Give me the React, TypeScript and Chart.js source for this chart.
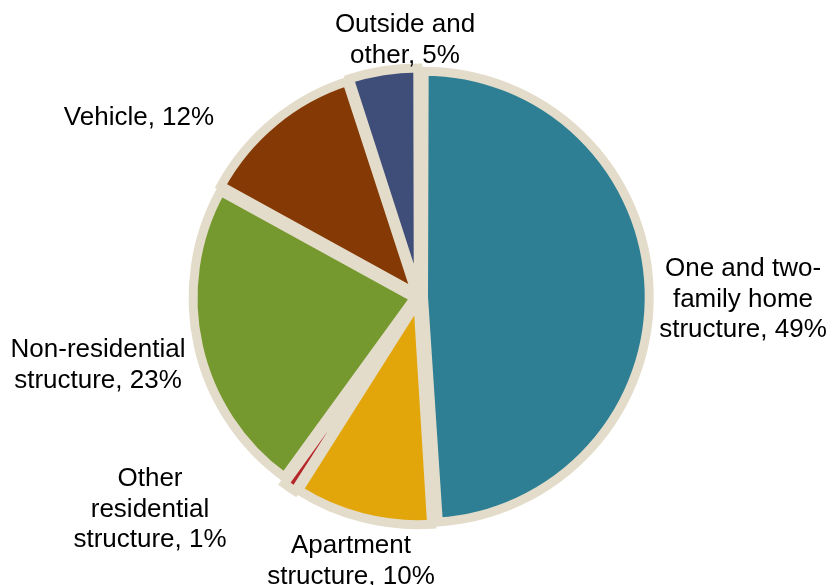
import React, { useEffect, useRef } from "react";
import { Chart, registerables } from "chart.js";

Chart.register(...registerables);

// ---- data ----
const categories = [
  "One and two-family home structure",
  "Apartment structure",
  "Other residential structure",
  "Non-residential structure",
  "Vehicle",
  "Outside and other",
];
const shares = [49, 10, 1, 23, 12, 5];
const labelLines = [
  ["One and two-", "family home", "structure, 49%"],
  ["Apartment", "structure, 10%"],
  ["Other", "residential", "structure, 1%"],
  ["Non-residential", "structure, 23%"],
  ["Vehicle, 12%"],
  ["Outside and", "other, 5%"],
];

// ---- styles / layout ----
const colors = ["#2E7F93", "#E3A60A", "#B5262A", "#76992F", "#853A05", "#3E4E78"];
const borderColor = "#E4DCCA";
// label anchor: centre x and first baseline y (page pixels)
const labelAnchors = [
  [743, 276],
  [351, 553],
  [150, 486],
  [98, 357],
  [139, 125],
  [405, 32],
];
const LINE_H = 30.5;
const FONT = '26px "Liberation Sans", Arial, sans-serif';

const labelPlugin = {
  id: "sliceLabels",
  afterDraw(chart: any) {
    const ctx = chart.ctx;
    ctx.save();
    ctx.font = FONT;
    ctx.fillStyle = "#000000";
    ctx.textAlign = "center";
    ctx.textBaseline = "alphabetic";
    labelLines.forEach((lines, i) => {
      const [x, y] = labelAnchors[i];
      lines.forEach((ln, j) => ctx.fillText(ln, x, y + j * LINE_H));
    });
    ctx.restore();
  },
};

export default function App() {
  const ref = useRef<HTMLCanvasElement>(null);
  useEffect(() => {
    if (!ref.current) return;
    const chart = new Chart(ref.current, {
      type: "pie",
      data: {
        labels: categories,
        datasets: [
          {
            data: shares,
            backgroundColor: colors,
            borderColor: borderColor,
            borderWidth: 9,
            borderJoinStyle: "miter",
            offset: 18,
            hoverOffset: 0,
          },
        ],
      },
      options: {
        responsive: false,
        animation: false,
        radius: 221.5,
        layout: { padding: { left: 6, top: 9, right: 0, bottom: 0 } },
        plugins: {
          legend: { display: false },
          tooltip: { enabled: false },
        },
        events: [],
      } as any,
      plugins: [labelPlugin],
    });
    return () => chart.destroy();
  }, []);
  return (
    <div style={{ position: "absolute", left: 0, top: 0, width: 832, height: 585, background: "#fff" }}>
      <canvas ref={ref} width={832} height={585} style={{ display: "block" }} />
    </div>
  );
}
